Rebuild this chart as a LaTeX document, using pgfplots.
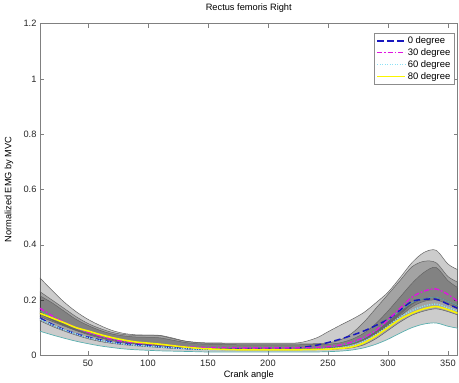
\documentclass[border=0pt]{standalone}
\usepackage{fontspec}
\setmainfont{Liberation Sans}
\usepackage{pgfplots}
\pgfplotsset{compat=1.18}
\usepackage{pgfplotstable}
\usepgfplotslibrary{fillbetween}

\definecolor{bandedge}{RGB}{100,100,100}
\definecolor{tealedge}{RGB}{90,175,175}
\definecolor{mblue}{RGB}{25,25,190}
\definecolor{mmag}{RGB}{225,20,225}
\definecolor{mcyan}{RGB}{140,225,245}
\definecolor{myel}{RGB}{250,245,0}

\pgfplotstableread{
x   T1    b1    T2    b2    T3    b3    T4    b4
10  0.280 0.125 0.230 0.140 0.215 0.150 0.160 0.087
20  0.235 0.105 0.200 0.123 0.190 0.128 0.138 0.074
30  0.193 0.088 0.170 0.106 0.160 0.108 0.117 0.062
40  0.158 0.073 0.140 0.090 0.130 0.090 0.098 0.051
50  0.130 0.060 0.115 0.078 0.108 0.075 0.082 0.042
60  0.108 0.050 0.097 0.066 0.090 0.063 0.070 0.034
70  0.090 0.043 0.083 0.056 0.077 0.053 0.060 0.028
80  0.079 0.038 0.075 0.048 0.070 0.046 0.052 0.023
90  0.074 0.034 0.072 0.042 0.066 0.042 0.047 0.020
100 0.073 0.031 0.073 0.038 0.065 0.039 0.044 0.018
110 0.071 0.028 0.072 0.034 0.063 0.036 0.040 0.016
120 0.061 0.025 0.063 0.030 0.055 0.032 0.036 0.015
130 0.052 0.023 0.052 0.026 0.047 0.028 0.032 0.014
140 0.047 0.021 0.046 0.023 0.042 0.026 0.029 0.013
150 0.045 0.020 0.043 0.021 0.040 0.025 0.027 0.012
175 0.044 0.020 0.041 0.019 0.038 0.024 0.026 0.012
200 0.044 0.021 0.041 0.019 0.038 0.024 0.026 0.012
225 0.045 0.022 0.041 0.019 0.038 0.024 0.026 0.012
240 0.062 0.024 0.042 0.020 0.039 0.025 0.027 0.012
250 0.085 0.028 0.045 0.021 0.040 0.027 0.030 0.013
260 0.108 0.033 0.055 0.023 0.045 0.031 0.035 0.015
270 0.130 0.042 0.080 0.027 0.058 0.040 0.044 0.019
280 0.155 0.058 0.120 0.038 0.080 0.055 0.062 0.027
290 0.190 0.080 0.170 0.060 0.115 0.078 0.090 0.040
300 0.228 0.105 0.220 0.090 0.160 0.110 0.125 0.058
310 0.280 0.140 0.270 0.120 0.210 0.148 0.160 0.080
320 0.335 0.175 0.320 0.145 0.260 0.185 0.190 0.100
330 0.372 0.195 0.340 0.160 0.300 0.205 0.205 0.113
340 0.380 0.200 0.335 0.168 0.318 0.210 0.210 0.117
350 0.330 0.185 0.285 0.158 0.270 0.195 0.195 0.105
358 0.310 0.170 0.265 0.146 0.245 0.178 0.180 0.098
}\bands

\pgfplotstableread{
x   m0    m30   m60   m80
10  0.135 0.170 0.130 0.152
20  0.112 0.143 0.110 0.135
30  0.093 0.120 0.092 0.118
40  0.078 0.100 0.077 0.100
50  0.066 0.083 0.064 0.088
60  0.056 0.070 0.054 0.075
70  0.048 0.058 0.046 0.064
80  0.042 0.050 0.040 0.055
90  0.038 0.045 0.036 0.048
100 0.035 0.042 0.033 0.044
110 0.031 0.039 0.030 0.040
120 0.028 0.035 0.027 0.035
130 0.025 0.031 0.024 0.030
140 0.023 0.029 0.022 0.026
150 0.022 0.028 0.020 0.023
175 0.023 0.027 0.020 0.020
200 0.025 0.027 0.020 0.020
225 0.027 0.027 0.020 0.020
240 0.036 0.028 0.021 0.021
250 0.046 0.031 0.023 0.022
260 0.058 0.037 0.027 0.025
270 0.072 0.048 0.034 0.030
280 0.088 0.065 0.050 0.045
290 0.108 0.090 0.075 0.070
300 0.130 0.128 0.105 0.100
310 0.163 0.170 0.138 0.130
320 0.195 0.210 0.162 0.152
330 0.202 0.232 0.178 0.168
340 0.203 0.240 0.185 0.176
350 0.185 0.220 0.172 0.165
358 0.170 0.195 0.160 0.152
}\means

\begin{document}
\begin{tikzpicture}
\begin{axis}[
  scale only axis, width=418bp, height=332bp,
  xmin=10, xmax=358, ymin=0, ymax=1.2,
  xtick={50,100,150,200,250,300,350},
  ytick={0,0.2,0.4,0.6,0.8,1,1.2},
  yticklabels={0,0.2,0.4,0.6,0.8,1,1.2},
  xticklabels={50,100,150,200,250,300,350},
  tick align=inside, major tick length=4bp,
  tick pos=both, xticklabel pos=lower, yticklabel pos=left,
  axis line style={black!50}, tick style={black!50},
  /pgf/number format/assume math mode=true,
  tick label style={font=\fontsize{9.3}{10}\selectfont, text=black!85},
  xticklabel style={yshift=-1bp},
  title={Rectus femoris Right},
  title style={at={(axis description cs:0.5,1)}, anchor=center, yshift=10bp, font=\fontsize{9.3}{10}\selectfont},
  xlabel={Crank angle},
  xlabel style={at={(axis description cs:0.5,0)}, anchor=center, yshift=-20bp, font=\fontsize{9.3}{10}\selectfont},
  ylabel={Normalized EMG by MVC},
  ylabel style={at={(axis description cs:-0.074,0.5)}, anchor=center, font=\fontsize{9.3}{10}\selectfont},
  legend style={at={(rel axis cs:1,1)}, xshift=-3bp, yshift=-9bp, anchor=north east,
    draw=black!45, fill=white, font=\fontsize{9.5}{10}\selectfont,
    inner sep=2bp, row sep=-0.5bp, cells={anchor=west}},
  legend image code/.code={\draw[#1] (0bp,0bp) -- (28bp,0bp);},
]
% shaded bands
\addplot[name path=t1, draw=bandedge, line width=0.5bp, smooth, forget plot] table[x=x,y=T1]{\bands};
\addplot[name path=b1, draw=bandedge, line width=0.5bp, smooth, forget plot] table[x=x,y=b1]{\bands};
\addplot[fill=black, fill opacity=0.2, draw=none, forget plot] fill between[of=t1 and b1];
\addplot[name path=t2, draw=bandedge, line width=0.5bp, smooth, forget plot] table[x=x,y=T2]{\bands};
\addplot[name path=b2, draw=bandedge, line width=0.5bp, smooth, forget plot] table[x=x,y=b2]{\bands};
\addplot[fill=black, fill opacity=0.2, draw=none, forget plot] fill between[of=t2 and b2];
\addplot[name path=t3, draw=bandedge, line width=0.5bp, smooth, forget plot] table[x=x,y=T3]{\bands};
\addplot[name path=b3, draw=bandedge, line width=0.5bp, smooth, forget plot] table[x=x,y=b3]{\bands};
\addplot[fill=black, fill opacity=0.2, draw=none, forget plot] fill between[of=t3 and b3];
\addplot[name path=t4, draw=tealedge, line width=0.5bp, smooth, forget plot] table[x=x,y=T4]{\bands};
\addplot[name path=b4, draw=tealedge, line width=0.7bp, smooth, forget plot] table[x=x,y=b4]{\bands};
\addplot[fill=black, fill opacity=0.2, draw=none, forget plot] fill between[of=t4 and b4];
% mean curves
\addplot[mblue, line width=1.5bp, dash pattern=on 6.5bp off 3.5bp, smooth] table[x=x,y=m0]{\means};
\addlegendentry{0 degree}
\addplot[mmag, line width=1.4bp, dash pattern=on 5bp off 2bp on 1.5bp off 2bp, smooth] table[x=x,y=m30]{\means};
\addlegendentry{30 degree}
\addplot[mcyan, line width=1.4bp, dash pattern=on 1.2bp off 1.3bp, smooth] table[x=x,y=m60]{\means};
\addlegendentry{60 degree}
\addplot[myel, line width=1.6bp, smooth] table[x=x,y=m80]{\means};
\addlegendentry{80 degree}
\end{axis}
\path (-40bp,-27bp) rectangle (419bp,355bp);
\end{tikzpicture}
\end{document}
